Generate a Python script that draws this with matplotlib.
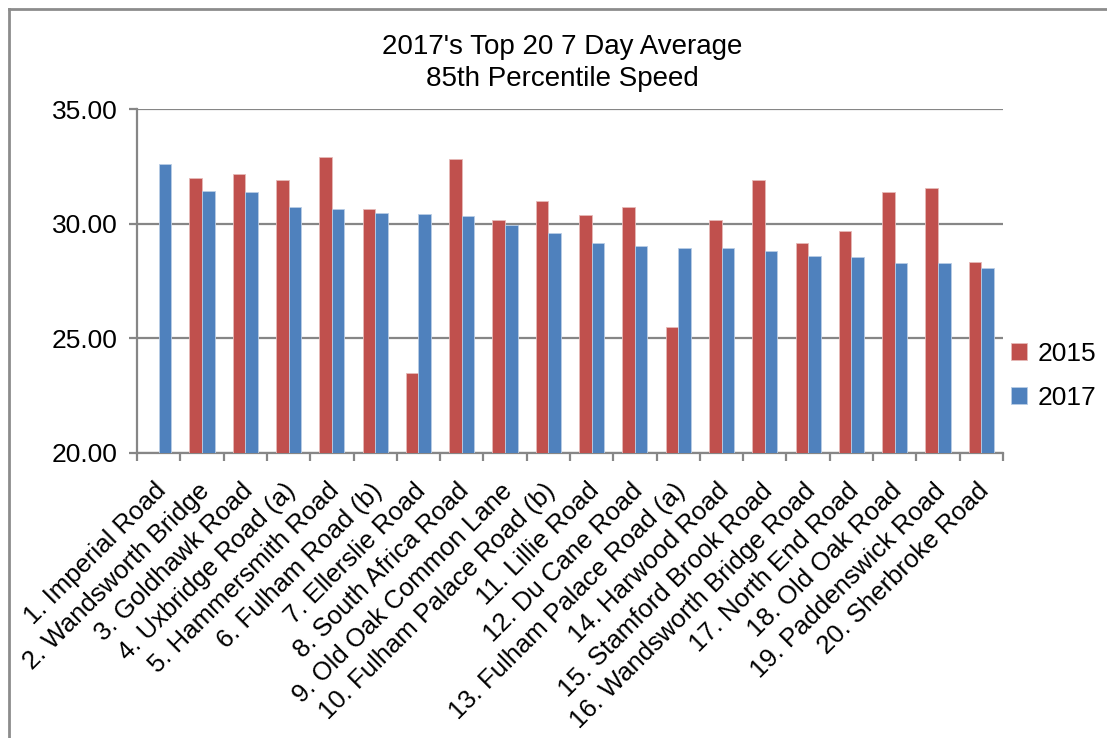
import numpy as np
import matplotlib
matplotlib.use("Agg")
import matplotlib.pyplot as plt
import matplotlib.transforms as mtransforms
from matplotlib.lines import Line2D

plt.rcParams['font.family'] = ['Liberation Sans', 'DejaVu Sans']

roads = [
    "1. Imperial Road", "2. Wandsworth Bridge", "3. Goldhawk Road",
    "4. Uxbridge Road (a)", "5. Hammersmith Road", "6. Fulham Road (b)",
    "7. Ellerslie Road", "8. South Africa Road", "9. Old Oak Common Lane",
    "10. Fulham Palace Road (b)", "11. Lillie Road", "12. Du Cane Road",
    "13. Fulham Palace Road (a)", "14. Harwood Road", "15. Stamford Brook Road",
    "16. Wandsworth Bridge Road", "17. North End Road", "18. Old Oak Road",
    "19. Paddenswick Road", "20. Sherbroke Road",
]
speed_2015 = [np.nan, 32.00, 32.16, 31.90, 32.90, 30.66, 23.47, 32.83, 30.15, 30.99,
              30.38, 30.71, 25.50, 30.15, 31.90, 29.14, 29.69, 31.38, 31.55, 28.35]
speed_2017 = [32.61, 31.44, 31.38, 30.71, 30.66, 30.48, 30.42, 30.32, 29.94, 29.59,
              29.15, 29.04, 28.92, 28.92, 28.80, 28.59, 28.53, 28.29, 28.29, 28.06]
yticks = [20.0, 25.0, 30.0, 35.0]

RED = "#C0504D"
BLUE = "#4F81BD"
GRID = "#868686"

fig = plt.figure(figsize=(11.07, 7.38), dpi=100)
ax = fig.add_axes([0.1238, 0.3862, 0.7822, 0.4661])

x = np.arange(len(roads))
w = 0.29
ax.bar(x - w / 2, speed_2015, w, color=RED, edgecolor="#E6B9B8", linewidth=0.6,
       label="2015", zorder=3)
ax.bar(x + w / 2, speed_2017, w, color=BLUE, edgecolor="#B9CDE5", linewidth=0.6,
       label="2017", zorder=3)

ax.set_xlim(-0.5, len(roads) - 0.5)
ax.set_ylim(20, 35)
ax.set_yticks(yticks)
ax.set_yticklabels([f"{v:.2f}" for v in yticks], fontsize=19)
ax.yaxis.grid(True, color=GRID, linewidth=1.6, zorder=0)
ax.set_axisbelow(True)

# category boundaries carry the tick marks, centres carry the labels
ax.set_xticks(np.arange(-0.5, len(roads)), minor=False)
ax.set_xticklabels([])
ax.set_xticks(x, minor=True)
ax.set_xticklabels(roads, minor=True, rotation=45, ha="right",
                   rotation_mode="anchor", fontsize=18.5)
ax.tick_params(axis="x", which="minor", length=0, pad=17)
ax.tick_params(axis="x", which="major", length=6, width=1.6, color=GRID,
               direction="out")
ax.tick_params(axis="y", length=6, width=1.6, color=GRID, direction="out", pad=8)

shift = mtransforms.ScaledTranslation(-5 / 100, -2 / 100, fig.dpi_scale_trans)
for lbl in ax.get_xticklabels(minor=True):
    lbl.set_transform(lbl.get_transform() + shift)

for side in ("top", "right"):
    ax.spines[side].set_visible(False)
for side in ("left", "bottom"):
    ax.spines[side].set_color(GRID)
    ax.spines[side].set_linewidth(1.6)

fig.text(0.508, 1 - 63 / 738, "2017's Top 20 7 Day Average\n85th Percentile Speed",
         ha="center", va="center", fontsize=20, linespacing=1.25)

leg = ax.legend(loc="center left", bbox_to_anchor=(0.997, 0.224), frameon=False,
                fontsize=19, handlelength=0.6, handleheight=0.6,
                handletextpad=0.4, labelspacing=0.75, borderaxespad=0.0)

# chart frame
fig.add_artist(Line2D([9 / 1107, 1.0], [1 - 9 / 738, 1 - 9 / 738],
                      transform=fig.transFigure, color="#8C8C8C", linewidth=2))
fig.add_artist(Line2D([9 / 1107, 9 / 1107], [0.0, 1 - 9 / 738],
                      transform=fig.transFigure, color="#8C8C8C", linewidth=2))

fig.savefig("out.png", dpi=100)
